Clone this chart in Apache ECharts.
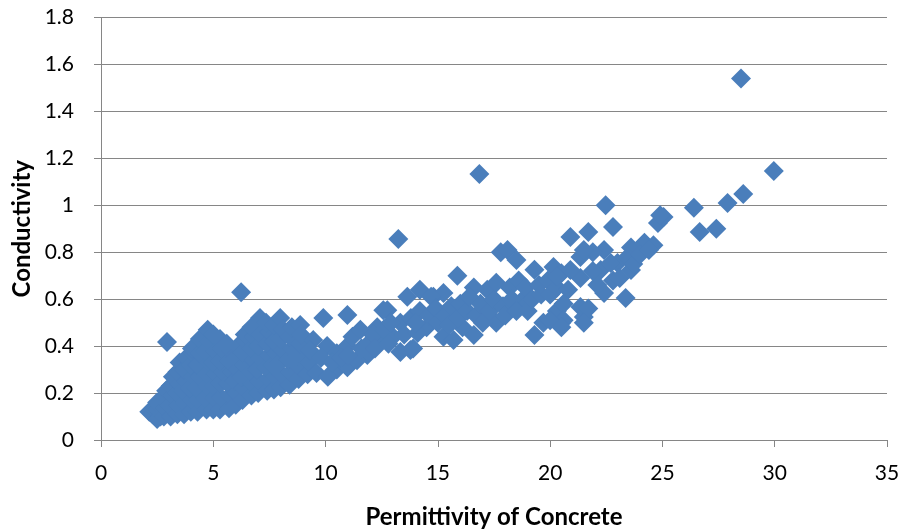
<!DOCTYPE html>
<html>
<head>
<meta charset="utf-8">
<script src="https://cdn.jsdelivr.net/npm/echarts@6/dist/echarts.min.js"></script>
<style>
html,body{margin:0;padding:0;background:#fff;}
#chart{width:903px;height:531px;}
</style>
</head>
<body>
<div id="chart"></div>
<script>
// Permittivity (x) vs Conductivity (y)
var blobPoints = [
  [2.15,0.12],[2.3,0.11],[2.35,0.13],
  [2.5,0.09],[2.55,0.13],[2.5,0.16],[2.65,0.1],
  [2.8,0.1],[2.85,0.14],[2.75,0.18],[2.9,0.21],
  [3.1,0.1],[3.05,0.15],[3.15,0.19],[3.1,0.23],[3.2,0.27],
  [3.4,0.11],[3.45,0.15],[3.35,0.2],[3.5,0.24],[3.4,0.29],[3.5,0.33],
  [3.7,0.11],[3.75,0.16],[3.65,0.21],[3.8,0.25],[3.7,0.3],[3.8,0.35],
  [4.0,0.12],[4.05,0.17],[3.95,0.22],[4.1,0.27],[4.0,0.32],[4.1,0.37],[4.05,0.39],
  [4.3,0.12],[4.35,0.17],[4.25,0.22],[4.4,0.27],[4.3,0.32],[4.4,0.37],[4.4,0.43],
  [4.7,0.13],[4.65,0.18],[4.75,0.23],[4.7,0.28],[4.8,0.33],[4.65,0.38],[4.8,0.42],[4.75,0.47],
  [5.0,0.13],[5.05,0.18],[5.0,0.23],[5.1,0.28],[5.0,0.33],[5.1,0.38],[5.0,0.45],
  [5.3,0.13],[5.35,0.18],[5.3,0.24],[5.4,0.29],[5.3,0.34],[5.4,0.39],[5.3,0.43],
  [5.7,0.135],[5.75,0.19],[5.65,0.24],[5.8,0.29],[5.7,0.34],[5.8,0.38],[5.6,0.41],
  [6.0,0.15],[6.05,0.2],[5.95,0.25],[6.1,0.3],[6.0,0.35],[6.1,0.4],
  [6.3,0.17],[6.35,0.22],[6.25,0.27],[6.4,0.32],[6.3,0.37],[6.45,0.42],[6.4,0.45],
  [6.7,0.19],[6.75,0.24],[6.65,0.29],[6.8,0.34],[6.7,0.39],[6.8,0.44],[6.7,0.48],
  [7.0,0.2],[7.05,0.25],[6.95,0.3],[7.1,0.35],[7.0,0.4],[7.1,0.45],[7.08,0.52],
  [7.4,0.21],[7.45,0.26],[7.35,0.31],[7.5,0.36],[7.4,0.41],[7.5,0.46],[7.35,0.5],
  [7.7,0.215],[7.75,0.27],[7.65,0.32],[7.8,0.37],[7.7,0.42],[7.7,0.49],
  [8.0,0.225],[8.05,0.28],[7.95,0.33],[8.1,0.38],[8.0,0.43],[7.98,0.52],[8.1,0.47],
  [8.4,0.235],[8.45,0.29],[8.35,0.34],[8.5,0.39],[8.4,0.44],[8.5,0.48],
  [8.8,0.26],[8.85,0.31],[8.75,0.36],[8.87,0.41],[8.87,0.49],[8.9,0.45],
  [9.2,0.28],[9.25,0.33],[9.45,0.426],[9.3,0.38]
];
var midPoints = [
  [9.9,0.52],[10.97,0.533],[10.07,0.40],[10.5,0.37],[10.97,0.40],[11.2,0.44],
  [11.55,0.47],[11.86,0.362],[12.3,0.48],[12.75,0.553],[12.57,0.553],[13.33,0.5],
  [13.78,0.383],[13.33,0.375],[13.9,0.39],[12.4,0.426],[13.0,0.44],[9.6,0.285],
  [10.5,0.30],[10.97,0.31],[11.4,0.34],[10.1,0.27],[9.8,0.35],[10.3,0.33],
  [10.7,0.35],[11.0,0.36],[11.6,0.39],[12.0,0.42],[12.1,0.45],[12.6,0.47],
  [12.9,0.5],[12.2,0.39],[12.8,0.41],[13.5,0.45]
];
var bandPoints = [
  [13.64,0.61],[14.2,0.64],[14.8,0.61],[15.25,0.626],[14.5,0.48],[14.1,0.456],
  [15.25,0.44],[15.7,0.426],[16.6,0.447],[15.87,0.70],[17.8,0.80],[18.1,0.81],
  [18.5,0.767],[19.3,0.447],[19.7,0.50],[20.5,0.50],[20.3,0.55],[16.6,0.65],
  [17.2,0.64],[19.3,0.725],[20.15,0.737],[18.2,0.65],[18.8,0.60],[16.1,0.48],
  [17.6,0.50],[14.7,0.61],[13.8,0.52],[14.2,0.55],[14.0,0.5],[14.6,0.53],
  [14.9,0.56],[15.0,0.5],[15.3,0.53],[15.6,0.57],[15.5,0.49],[15.9,0.52],
  [16.0,0.58],[16.3,0.55],[16.4,0.61],[16.7,0.53],[16.9,0.58],[17.0,0.5],
  [17.3,0.55],[17.5,0.6],[17.6,0.67],[17.9,0.57],[18.0,0.53],[18.3,0.6],
  [18.5,0.55],[18.6,0.68],[18.9,0.65],[19.0,0.55],[19.2,0.6],[19.5,0.66],
  [19.6,0.62],[19.9,0.68],[20.0,0.62],[20.3,0.65],[20.5,0.71],[20.8,0.64],[20.6,0.58]
];
var upperPoints = [
  [20.9,0.865],[21.7,0.886],[22.47,1.0],[22.8,0.907],[22.4,0.81],[21.9,0.80],
  [21.35,0.78],[23.0,0.754],[22.25,0.724],[21.35,0.69],[21.35,0.567],[21.5,0.524],
  [20.6,0.51],[23.6,0.724],[22.8,0.68],[22.4,0.626],[23.36,0.605],[23.6,0.82],
  [23.45,0.78],[24.2,0.84],[24.6,0.83],[24.8,0.925],[25.05,0.95],[24.9,0.958],
  [21.5,0.81],[20.9,0.724],[20.3,0.695],[22.7,0.754],[23.1,0.69],[23.7,0.75],
  [21.7,0.56],[20.0,0.51],[20.5,0.48],[21.5,0.5],[22.1,0.66],[21.9,0.72],
  [24.0,0.79],[24.4,0.81]
];
var outlierPoints = [
  [2.94,0.418],[6.24,0.63],[13.24,0.856],[16.85,1.133],
  [26.4,0.99],[26.66,0.886],[27.4,0.90],[27.9,1.01],[28.6,1.048],[29.96,1.146],[28.5,1.54]
];
var xTicks = {min:0, max:35, interval:5};
var yTicks = {min:0, max:1.8, interval:0.2};

var allPoints = blobPoints.concat(midPoints, bandPoints, upperPoints, outlierPoints);

var chart = echarts.init(document.getElementById('chart'), null, {renderer:'canvas'});
var gray = '#868686';
var font = 'Lato, "Liberation Sans", sans-serif';
chart.setOption({
  animation:false,
  backgroundColor:'#fff',
  grid:{left:101, right:16, top:17.5, bottom:91, containLabel:false, outerBoundsMode:'none'},
  xAxis:{
    type:'value', min:xTicks.min, max:xTicks.max, interval:xTicks.interval,
    name:'Permittivity of Concrete', nameLocation:'middle', nameGap:65,
    nameTextStyle:{fontFamily:font, fontSize:24, fontWeight:'bold', color:'#000'},
    axisLine:{show:true, onZero:false, lineStyle:{color:gray, width:1}},
    axisTick:{show:true, length:7, lineStyle:{color:gray}},
    axisLabel:{fontFamily:font, fontSize:21, color:'#000', margin:23},
    splitLine:{show:false}
  },
  yAxis:{
    type:'value', min:yTicks.min, max:yTicks.max, interval:yTicks.interval,
    name:'Conductivity', nameLocation:'middle', nameGap:67, nameRotate:90,
    nameTextStyle:{fontFamily:font, fontSize:24, fontWeight:'bold', color:'#000'},
    axisLine:{show:true, lineStyle:{color:gray, width:1}},
    axisTick:{show:true, length:7, lineStyle:{color:gray}},
    axisLabel:{fontFamily:font, fontSize:21, color:'#000', margin:27,
      formatter:function(v){return String(Math.round(v*10)/10);}},
    splitLine:{show:true, lineStyle:{color:gray, width:1}}
  },
  series:[{
    type:'scatter',
    symbol:'diamond',
    symbolSize:[20,20],
    itemStyle:{color:'#4A7EBB', opacity:1},
    data:allPoints
  }]
});
</script>
</body>
</html>
